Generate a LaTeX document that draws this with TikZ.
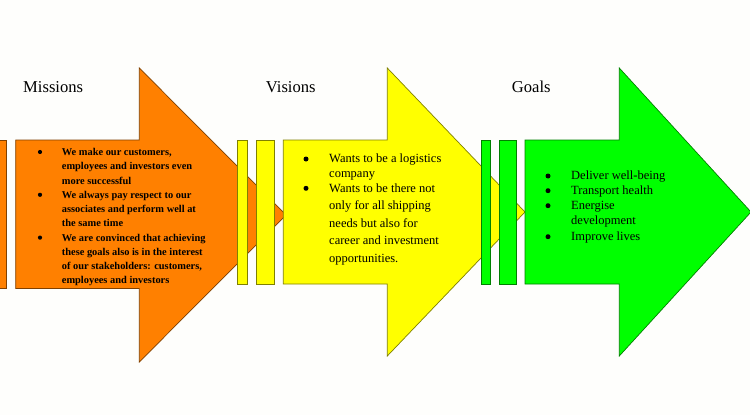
\documentclass[tikz,border=0pt]{standalone}
\usepackage{fontspec}
\setmainfont{Liberation Serif}
\definecolor{ofill}{RGB}{255,128,0}
\definecolor{oline}{RGB}{128,64,0}
\definecolor{yfill}{RGB}{255,255,0}
\definecolor{yline}{RGB}{128,128,0}
\definecolor{gfill}{RGB}{0,255,0}
\definecolor{gline}{RGB}{0,128,0}
\definecolor{bgc}{RGB}{254,254,252}
\tikzset{
  title/.style={anchor=base west, inner sep=0pt, font=\fontsize{16.6}{20}\selectfont},
  otext/.style={anchor=base west, inner sep=0pt, font=\fontsize{10.4}{12}\selectfont\bfseries},
  ytext/.style={anchor=base west, inner sep=0pt, font=\fontsize{12.5}{15}\selectfont},
  obul/.style={circle, fill=black, inner sep=0pt, minimum size=4.2pt},
  bul/.style={circle, fill=black, inner sep=0pt, minimum size=5pt},
  oshape/.style={fill=ofill, draw=oline, line width=0.7pt, line join=miter},
  yshape/.style={fill=yfill, draw=yline, line width=0.7pt, line join=miter},
  gshape/.style={fill=gfill, draw=gline, line width=0.7pt, line join=miter}
}
\begin{document}
\begin{tikzpicture}[x=1pt,y=-1pt]
\fill[bgc] (0,0) rectangle (750,415);
\useasboundingbox (0,0) rectangle (750,415);
\clip (0,0) rectangle (750,415);
% orange
\draw[oshape] (-12,140) rectangle (6.7,288.5);
\draw[oshape] (15.7,140) -- (139.3,140) -- (139.3,68) -- (286,215) -- (139.3,362) -- (139.3,288.5) -- (15.7,288.5) -- cycle;
% yellow
\draw[yshape] (237.7,140) rectangle (247.3,284);
\draw[yshape] (256,140) rectangle (274.3,284);
\draw[yshape] (283.3,140) -- (387.3,140) -- (387.3,68) -- (525,212) -- (387.3,356) -- (387.3,284) -- (283.3,284) -- cycle;
% green
\draw[gshape] (481.7,140) rectangle (490.7,284);
\draw[gshape] (499.3,140) rectangle (516.7,284);
\draw[gshape] (525,140) -- (619.3,140) -- (619.3,68) -- (751,212) -- (619.3,356) -- (619.3,284) -- (525,284) -- cycle;
% titles
\node[title] (tm) at (23,92.5) {Missions};
\node[title] (tv) at (265.7,92.5) {Visions};
\node[title] (tg) at (511.7,92.5) {Goals};
% orange text
\foreach \t [count=\i] in {{We make our customers,},{employees and investors even},{more successful},{We always pay respect to our},{associates and perform well at},{the same time},{We are convinced that achieving},{these goals also is in the interest},{of our stakeholders: customers,},{employees and investors}}
  \node[otext] (o\i) at (61.7,{155.5+(\i-1)*14.27}) {\t};
\foreach \k [count=\i] in {0,3,6}
  \node[obul] (ob\i) at (40,{152+\k*14.27}) {};
% yellow text
\node[ytext] (y1) at (329,162.8) {Wants to be a logistics};
\node[ytext] (y2) at (329,177.8) {company};
\node[ytext] (y3) at (329,192) {Wants to be there not};
\node[ytext] (y4) at (329,209.8) {only for all shipping};
\node[ytext] (y5) at (329,227.8) {needs but also for};
\node[ytext] (y6) at (329,244.8) {career and investment};
\node[ytext] (y7) at (329,262.8) {opportunities.};
\node[bul] (yb1) at (306,159) {};
\node[bul] (yb2) at (306,188.3) {};
% green text
\node[ytext] (g1) at (571,179.8) {Deliver well-being};
\node[ytext] (g2) at (571,194.5) {Transport health};
\node[ytext] (g3) at (571,209.5) {Energise};
\node[ytext] (g4) at (571,224.8) {development};
\node[ytext] (g5) at (571,240.5) {Improve lives};
\node[bul] (gb1) at (548,176) {};
\node[bul] (gb2) at (548,190.7) {};
\node[bul] (gb3) at (548,205.7) {};
\node[bul] (gb4) at (548,236.7) {};
\end{tikzpicture}
\end{document}
